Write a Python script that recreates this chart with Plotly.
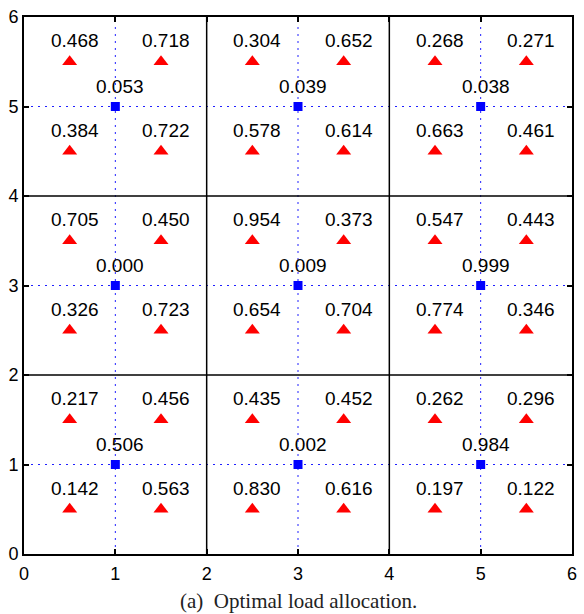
import plotly.graph_objects as go

# Sensor (blue square) positions and values
sq_x = [1, 3, 5, 1, 3, 5, 1, 3, 5]
sq_y = [5, 5, 5, 3, 3, 3, 1, 1, 1]
sq_val = ["0.053", "0.039", "0.038", "0.000", "0.009", "0.999", "0.506", "0.002", "0.984"]

# Load (red triangle) positions and values
tri_cols = [0.5, 1.5, 2.5, 3.5, 4.5, 5.5]
tri_rows = [5.5, 4.5, 3.5, 2.5, 1.5, 0.5]
tri_vals = [
    ["0.468", "0.718", "0.304", "0.652", "0.268", "0.271"],
    ["0.384", "0.722", "0.578", "0.614", "0.663", "0.461"],
    ["0.705", "0.450", "0.954", "0.373", "0.547", "0.443"],
    ["0.326", "0.723", "0.654", "0.704", "0.774", "0.346"],
    ["0.217", "0.456", "0.435", "0.452", "0.262", "0.296"],
    ["0.142", "0.563", "0.830", "0.616", "0.197", "0.122"],
]

grid_solid = [2, 4]
grid_dotted = [1, 3, 5]
tick_vals = [0, 1, 2, 3, 4, 5, 6]
caption = "(a)  Optimal load allocation."

tri_x, tri_y, tri_t = [], [], []
for r, row in zip(tri_rows, tri_vals):
    for c, v in zip(tri_cols, row):
        tri_x.append(c)
        tri_y.append(r)
        tri_t.append(v)

fig = go.Figure()

dot_line = dict(color="#2020ff", width=1, dash="2px,5px")
shapes = []
for g in grid_dotted:
    shapes.append(dict(type="line", xref="x", yref="paper", x0=g, x1=g, y0=0, y1=1,
                       line=dot_line, layer="below"))
    shapes.append(dict(type="line", xref="paper", yref="y", x0=0, x1=1, y0=g, y1=g,
                       line=dot_line, layer="below"))
for g in grid_solid:
    shapes.append(dict(type="line", xref="x", yref="paper", x0=g, x1=g, y0=0, y1=1,
                       line=dict(color="black", width=1.5), layer="below"))
    shapes.append(dict(type="line", xref="paper", yref="y", x0=0, x1=1, y0=g, y1=g,
                       line=dict(color="black", width=1.5), layer="below"))

fig.add_trace(go.Scatter(x=tri_x, y=tri_y, mode="markers",
                         marker=dict(symbol="triangle-up", size=13, color="#ff0000"),
                         hoverinfo="skip", showlegend=False))
fig.add_trace(go.Scatter(x=sq_x, y=sq_y, mode="markers",
                         marker=dict(symbol="square", size=9, color="#0000ff"),
                         hoverinfo="skip", showlegend=False))

lab_font = dict(family="Liberation Sans, Arial", size=19, color="black")
annots = []
for x, y, t in zip(tri_x, tri_y, tri_t):
    annots.append(dict(x=x, y=y, text=t, showarrow=False, xshift=5, yshift=21,
                       yanchor="middle", font=lab_font))
for x, y, t in zip(sq_x, sq_y, sq_val):
    annots.append(dict(x=x, y=y, text=t, showarrow=False, xshift=5, yshift=20,
                       yanchor="middle", font=lab_font))
annots.append(dict(xref="paper", yref="paper", x=0.5, y=-0.087, text=caption, showarrow=False,
                   yanchor="middle", xanchor="center",
                   font=dict(family="Liberation Serif, Times New Roman", size=21, color="#222")))

axis_common = dict(range=[0, 6], tickvals=tick_vals, showgrid=False, zeroline=False,
                   showline=True, linecolor="black", linewidth=2, mirror="ticks",
                   ticks="inside", ticklen=5, tickcolor="black", tickwidth=1.5,
                   tickfont=dict(family="Liberation Sans, Arial", size=18, color="black"))

fig.update_layout(
    width=584, height=614,
    margin=dict(l=24, r=7, t=12, b=60),
    paper_bgcolor="white", plot_bgcolor="white",
    xaxis=dict(**axis_common, ticklabelstandoff=2),
    yaxis=dict(**axis_common),
    shapes=shapes, annotations=annots,
)

fig.write_html("out.html")
